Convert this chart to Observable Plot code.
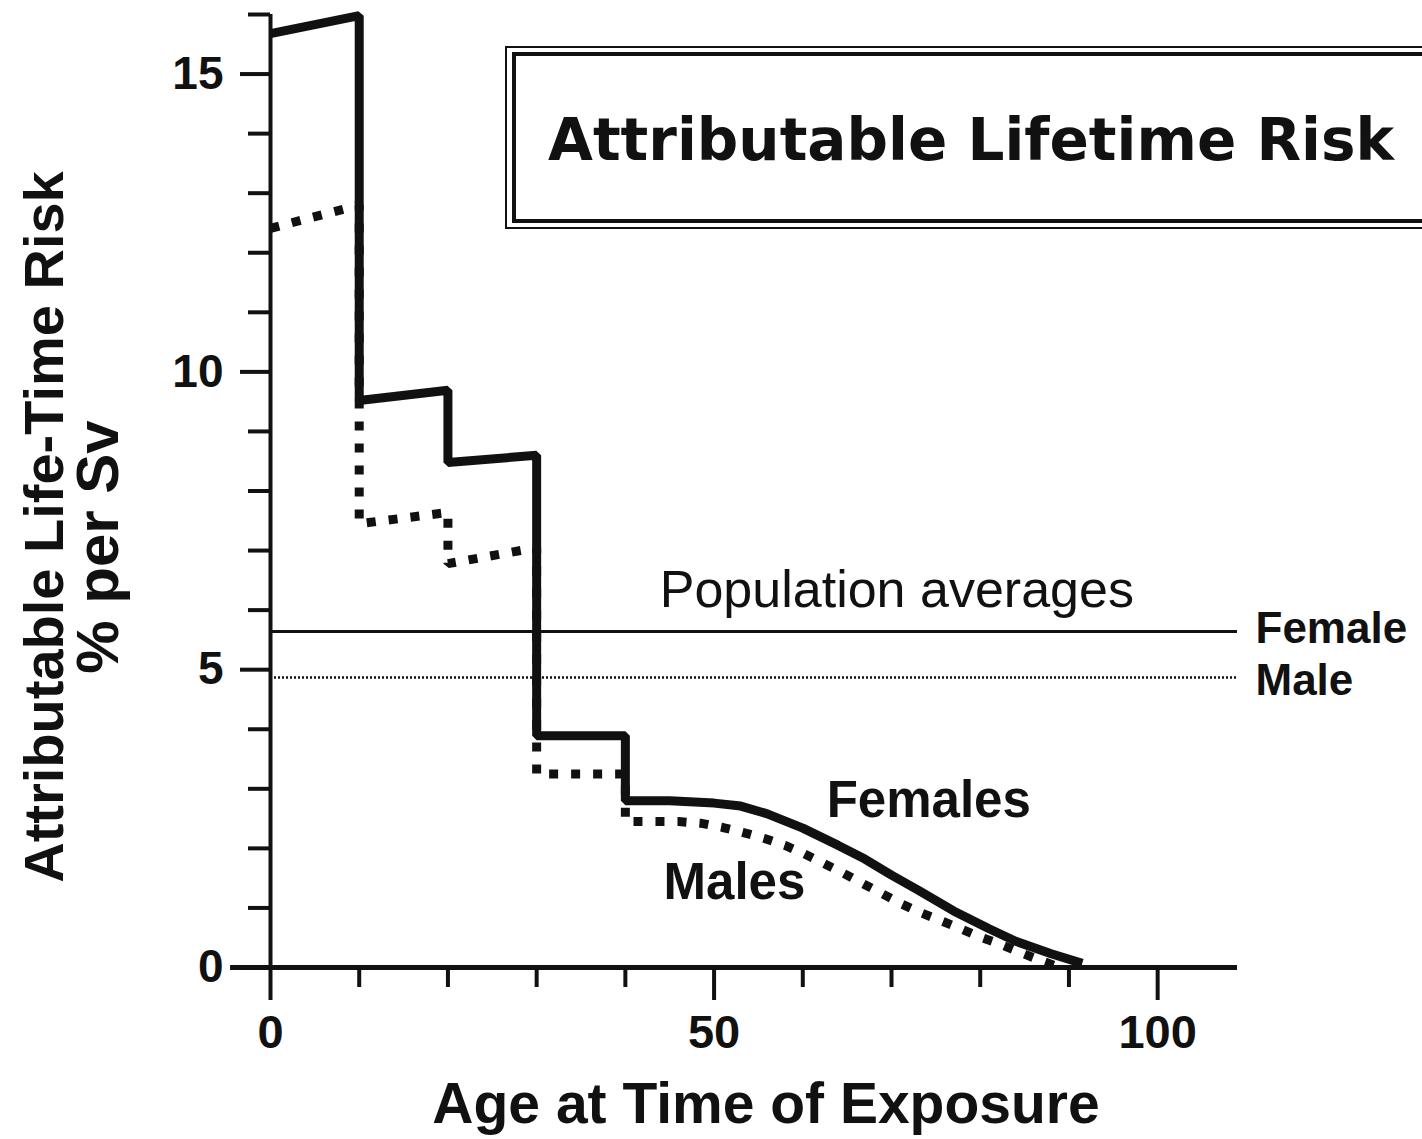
<!DOCTYPE html>
<html>
<head>
<meta charset="utf-8">
<script src="https://cdn.jsdelivr.net/npm/d3@7"></script>
<script src="https://cdn.jsdelivr.net/npm/@observablehq/plot@0.6"></script>
<style>
  html, body { margin: 0; padding: 0; background: #fff; width: 1422px; height: 1139px; overflow: hidden; }
  #wrap { position: relative; width: 1422px; height: 1139px; }
  #chart svg { display: block; }
  .titlebox { position: absolute; left: 505px; top: 46px; width: 960px; height: 183px; box-sizing: border-box; border: 2px solid #111; }
  .titlebox .inner { position: absolute; left: 5px; top: 4px; right: 5px; bottom: 4px; border: 4px solid #111; }
  .title { position: absolute; left: 548px; top: 111px; font-family: "DejaVu Sans", Verdana, sans-serif; font-weight: bold; font-size: 58px; line-height: 58px; color: #111; white-space: nowrap; }
</style>
</head>
<body>
<div id="wrap">
  <div id="chart"></div>
  <div class="titlebox"><div class="inner"></div></div>
  <div class="title">Attributable Lifetime Risk</div>
</div>
<script>
// ---- data ----
const femaleAges  = [0, 10, 10, 20, 20, 30, 30, 40, 40, 45, 50, 53, 56, 60, 64, 67, 70, 73, 77, 81, 84, 88, 91.5];
const femaleRisk  = [15.68, 15.98, 9.52, 9.69, 8.48, 8.60, 3.89, 3.89, 2.80, 2.80, 2.76, 2.71, 2.58, 2.34, 2.05, 1.82, 1.55, 1.30, 0.95, 0.65, 0.44, 0.23, 0.07];
const maleAges    = [0, 10, 10, 20, 20, 30, 30, 40, 40, 46, 48.6, 51, 53.2, 55.6, 58, 60, 62.3, 64.6, 66.5, 68.8, 71.1, 73.3, 75.5, 77.8, 80, 82.1, 84.4, 86.6, 89];
const maleRisk    = [12.41, 12.80, 7.45, 7.64, 6.78, 7.05, 3.25, 3.25, 2.45, 2.45, 2.42, 2.35, 2.27, 2.17, 2.05, 1.92, 1.75, 1.58, 1.43, 1.25, 1.07, 0.92, 0.79, 0.65, 0.51, 0.40, 0.26, 0.13, 0.0];
const popLabels   = ["Female", "Male"];
const popAverages = [5.64, 4.87];
const xTicksMajor = [0, 50, 100];
const xTicksMinor = [10, 20, 30, 40, 60, 70, 80, 90];
const yTicksMajor = [0, 5, 10, 15];
const yTicksMinor = [0, 1, 2, 3, 4, 6, 7, 8, 9, 11, 12, 13, 14, 16];
const xDomain = [0, 109];
const yDomain = [0, 16];
const xAxisExtent = [-4.5, 109];

const female = femaleAges.map((a, i) => ({age: a, risk: femaleRisk[i]}));
const male = maleAges.map((a, i) => ({age: a, risk: maleRisk[i]}));

const ink = "#111";
const chart = Plot.plot({
  width: 1422,
  height: 1139,
  marginLeft: 270,
  marginRight: 185,
  marginTop: 14,
  marginBottom: 172,
  x: {domain: xDomain},
  y: {domain: yDomain},
  style: {fontFamily: "'Liberation Sans', Arial, Helvetica, sans-serif", color: ink, background: "#fff", overflow: "visible"},
  marks: [
    // population averages
    Plot.ruleY([popAverages[0]], {x1: xDomain[0], x2: xDomain[1], stroke: ink, strokeWidth: 3}),
    Plot.ruleY([popAverages[1]], {x1: xDomain[0], x2: xDomain[1], stroke: ink, strokeWidth: 2.5, strokeDasharray: "2,2"}),
    Plot.text([popLabels[0]], {x: xDomain[1], y: [popAverages[0]], text: d => d, dx: 18, dy: -3, textAnchor: "start", lineAnchor: "middle", fontSize: 44, fontWeight: "bold", fill: ink}),
    Plot.text([popLabels[1]], {x: xDomain[1], y: [popAverages[1]], text: d => d, dx: 18, dy: 3, textAnchor: "start", lineAnchor: "middle", fontSize: 44, fontWeight: "bold", fill: ink}),
    Plot.text(["Population averages"], {x: 70.6, y: 6.33, text: d => d, fontSize: 52, lineAnchor: "middle", fill: ink}),

    // series
    Plot.line(male, {x: "age", y: "risk", stroke: ink, strokeWidth: 9, strokeDasharray: "9,13", strokeLinecap: "butt", strokeLinejoin: "miter"}),
    Plot.line(female, {x: "age", y: "risk", stroke: ink, strokeWidth: 9, strokeLinejoin: "miter", strokeLinecap: "butt"}),
    Plot.text(["Females"], {x: 74.2, y: 2.80, text: d => d, fontSize: 51, fontWeight: "bold", lineAnchor: "middle", fill: ink}),
    Plot.text(["Males"], {x: 52.3, y: 1.43, text: d => d, fontSize: 51, fontWeight: "bold", lineAnchor: "middle", fill: ink}),

    // axes
    Plot.ruleX([0], {stroke: ink, strokeWidth: 4}),
    Plot.ruleY([0], {x1: xAxisExtent[0], x2: xAxisExtent[1], stroke: ink, strokeWidth: 5}),
    Plot.axisY({ticks: yTicksMajor, tickSize: 30, tickPadding: 17, fontSize: 46, fontWeight: "bold", strokeWidth: 4, label: null}),
    Plot.axisY({ticks: yTicksMinor, tickSize: 22, tickFormat: () => "", strokeWidth: 4, label: null}),
    Plot.axisX({ticks: xTicksMajor, tickSize: 33, tickPadding: 14, fontSize: 47, fontWeight: "bold", strokeWidth: 4, label: null}),
    Plot.axisX({ticks: xTicksMinor, tickSize: 20, tickFormat: () => "", strokeWidth: 4, label: null}),

    // axis titles
    Plot.text(["Attributable Life-Time Risk"], {frameAnchor: "left", rotate: -90, dx: -208, dy: 36, text: d => d, fontSize: 56, fontWeight: "bold", lineAnchor: "bottom", textAnchor: "middle", fill: ink}),
    Plot.text(["% per Sv"], {frameAnchor: "left", rotate: -90, dx: -153, dy: 56, text: d => d, fontSize: 60, fontWeight: "bold", lineAnchor: "bottom", textAnchor: "middle", fill: ink}),
    Plot.text(["Age at Time of Exposure"], {frameAnchor: "bottom", dx: 12, dy: 155, text: d => d, fontSize: 57, fontWeight: "bold", lineAnchor: "bottom", textAnchor: "middle", fill: ink})
  ]
});
document.getElementById("chart").appendChild(chart);
</script>
</body>
</html>
